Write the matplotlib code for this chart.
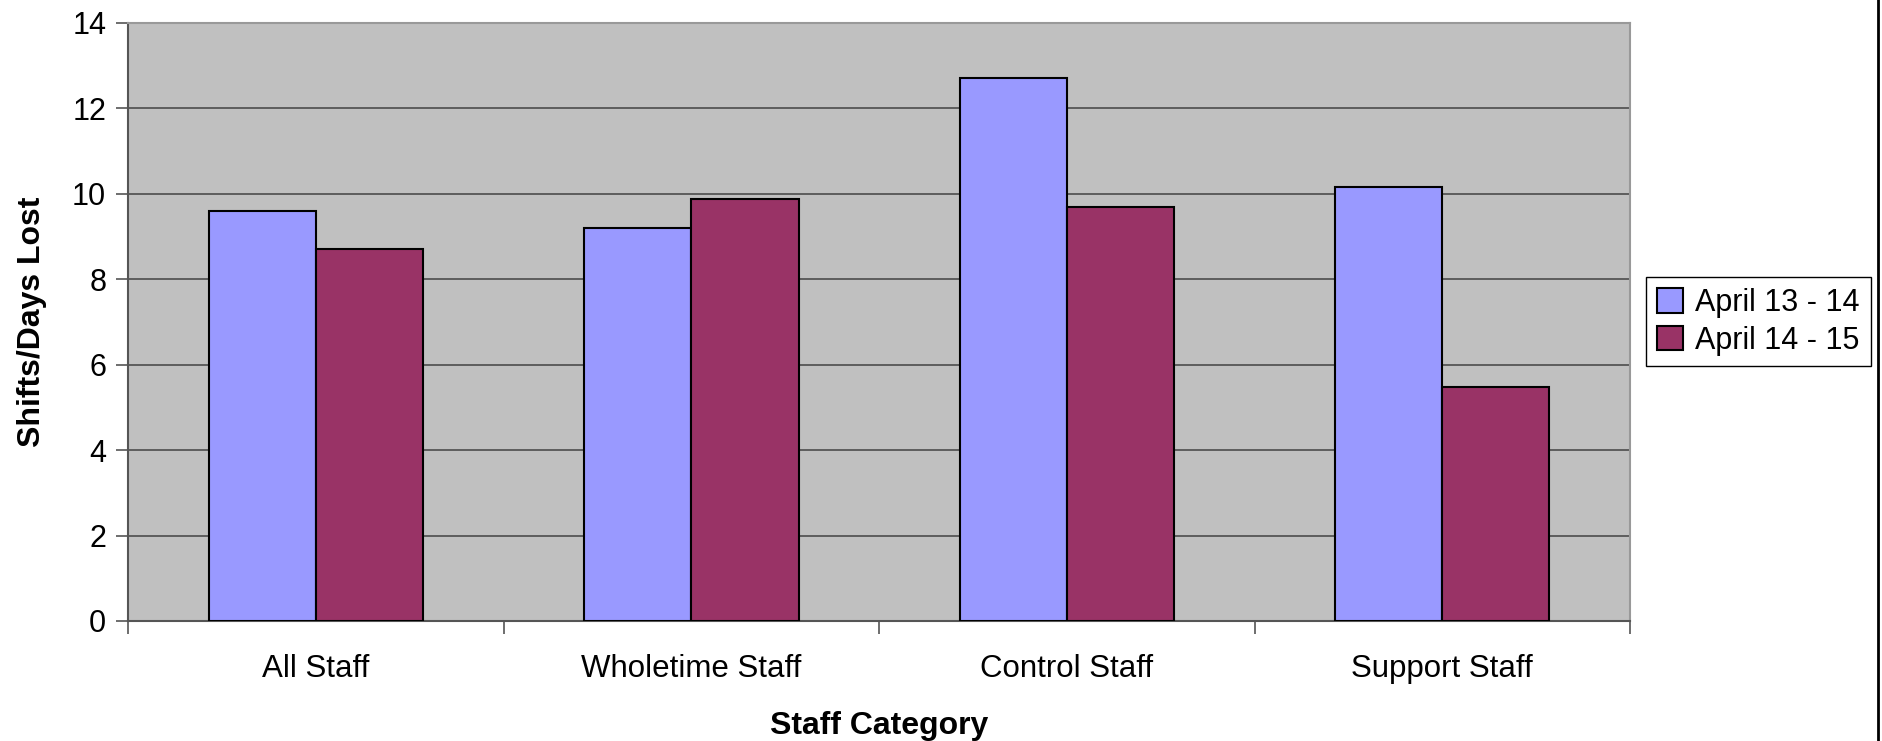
import numpy as np
import matplotlib
matplotlib.use("Agg")
import matplotlib.pyplot as plt
from matplotlib.ticker import MultipleLocator, FixedLocator

# data
categories = ["All Staff", "Wholetime Staff", "Control Staff", "Support Staff"]
series_names = ["April 13 - 14", "April 14 - 15"]
april_13_14 = [9.6, 9.2, 12.7, 10.15]
april_14_15 = [8.7, 9.87, 9.68, 5.47]

colors = ["#9999FF", "#993366"]

plt.rcParams["font.family"] = ["Liberation Sans", "DejaVu Sans"]

fig = plt.figure(figsize=(18.83, 7.41), dpi=100)
ax = fig.add_axes([0.0682, 0.162, 0.7974, 0.807])
ax.set_facecolor("#C0C0C0")

x = np.arange(len(categories))
w = 1 / 3.5  # excel gap width 150%
ax.bar(x - w / 2, april_13_14, w, color=colors[0], edgecolor="black", linewidth=1.5,
       label=series_names[0], zorder=3)
ax.bar(x + w / 2, april_14_15, w, color=colors[1], edgecolor="black", linewidth=1.5,
       label=series_names[1], zorder=3)

ax.set_xlim(-0.5, len(categories) - 0.5)
ax.set_ylim(0, 14)
ax.yaxis.set_major_locator(MultipleLocator(2))
ax.grid(axis="y", color="#555555", linewidth=1.3, zorder=1)

ax.set_xticks(x)
ax.set_xticklabels(categories, fontsize=22.5)
ax.tick_params(axis="x", length=0, pad=24)
ax.xaxis.set_minor_locator(FixedLocator(np.arange(-0.5, len(categories), 1.0)))
ax.tick_params(axis="x", which="minor", length=9, width=1.2, color="#555555")
ax.tick_params(axis="y", labelsize=22, length=9, width=1.2, color="#555555", pad=7)

for s in ["top", "right"]:
    ax.spines[s].set_color("#999999")
    ax.spines[s].set_linewidth(1.5)
for s in ["left", "bottom"]:
    ax.spines[s].set_color("#555555")
    ax.spines[s].set_linewidth(1.5)

ax.set_xlabel("Staff Category", fontsize=23, fontweight="bold", labelpad=19)
ax.set_ylabel("Shifts/Days Lost", fontsize=23, fontweight="bold", labelpad=18)

leg = ax.legend(loc="center left", bbox_to_anchor=(1.011, 0.5), fontsize=22,
                frameon=True, fancybox=False, edgecolor="black", framealpha=1,
                handlelength=0.85, handleheight=0.85, handletextpad=0.4,
                borderpad=0.35, labelspacing=0.25, borderaxespad=0)
leg.get_frame().set_linewidth(1.0)

# chart border on the right
fig.add_artist(plt.Line2D([0.9975, 0.9975], [0, 1], color="black", linewidth=2,
                          transform=fig.transFigure))

fig.savefig("out.png", dpi=100)
